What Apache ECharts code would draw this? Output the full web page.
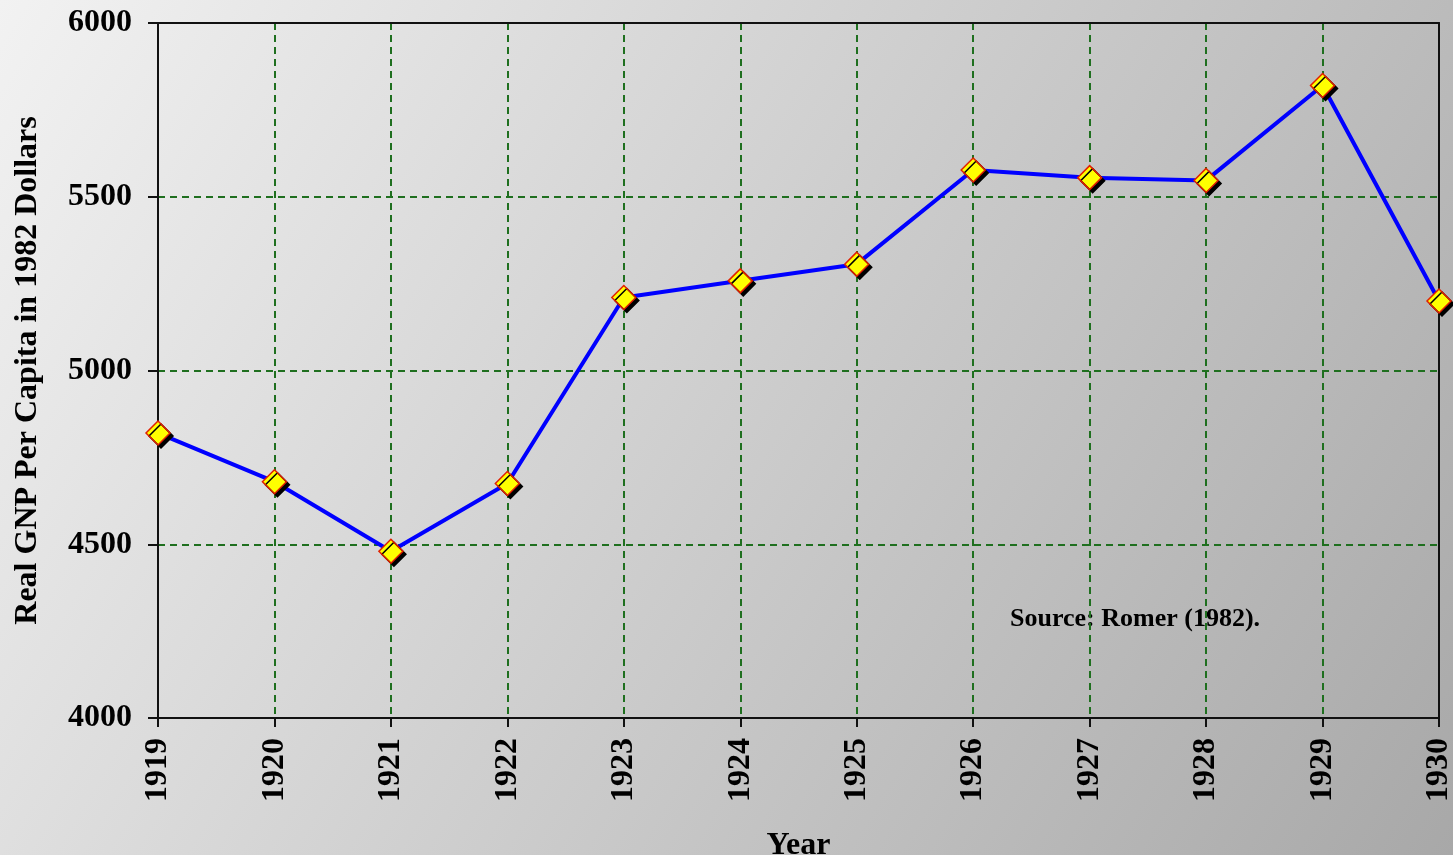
<!DOCTYPE html>
<html lang="en">
<head>
    <meta charset="UTF-8">
    <title>Real GNP Per Capita</title>
    <script src="https://cdn.jsdelivr.net/npm/echarts@6/dist/echarts.min.js"></script>
    <style>
        html, body { margin: 0; padding: 0; }
    </style>
</head>
<body>
    <div id="main" style="width: 1453px; height: 855px;"></div>
    <script>
        const years = ["1919", "1920", "1921", "1922", "1923", "1924", "1925", "1926", "1927", "1928", "1929", "1930"];
        const gnp = [4820, 4680, 4480, 4675, 5210, 5258, 5306, 5577, 5555, 5547, 5820, 5200];

        const font = "'Liberation Serif', 'Times New Roman', serif";
        const gridDash = { color: "#1f6f1f", type: [7, 5], width: 2 };
        const charts = echarts.init(document.getElementById("main"));

        const option = {
            backgroundColor: new echarts.graphic.LinearGradient(0, 0, 1, 1, [
                { offset: 0, color: "#f2f2f2" },
                { offset: 1, color: "#a8a8a8" }
            ]),
            grid: {
                left: 158, right: 14, top: 23, bottom: 137,
                outerBoundsMode: "none",
                containLabel: false
            },
            xAxis: [{
                type: "category",
                data: years,
                boundaryGap: false,
                name: "Year",
                nameLocation: "middle",
                nameGap: 112,
                nameTextStyle: { fontFamily: font, fontWeight: "bold", fontSize: 32, color: "#000" },
                axisLine: { lineStyle: { color: "#111", width: 2 } },
                axisTick: { length: 9, lineStyle: { color: "#111", width: 2 } },
                axisLabel: { rotate: 90, fontFamily: font, fontWeight: "bold", fontSize: 32, color: "#000", margin: 20 },
                splitLine: { show: true, lineStyle: gridDash },
                z: 3
            }, {
                type: "category",
                data: years,
                boundaryGap: false,
                position: "top",
                axisLine: { lineStyle: { color: "#111", width: 2 } },
                axisTick: { show: false },
                axisLabel: { show: false },
                splitLine: { show: false },
                z: 3
            }],
            yAxis: [{
                type: "value",
                min: 4000, max: 6000, interval: 500,
                name: "Real GNP Per Capita in 1982 Dollars",
                nameLocation: "middle",
                nameGap: 114,
                nameTextStyle: { fontFamily: font, fontWeight: "bold", fontSize: 32, color: "#000" },
                axisLine: { show: true, lineStyle: { color: "#111", width: 2 } },
                axisTick: { show: true, length: 10, lineStyle: { color: "#111", width: 2 } },
                axisLabel: { fontFamily: font, fontWeight: "bold", fontSize: 32, color: "#000", margin: 26,
                    formatter: v => String(v) },
                splitLine: { show: true, lineStyle: gridDash },
                z: 3
            }, {
                type: "value",
                min: 4000, max: 6000, interval: 500,
                position: "right",
                axisLine: { show: true, onZero: false, lineStyle: { color: "#111", width: 2 } },
                axisTick: { show: false },
                axisLabel: { show: false },
                splitLine: { show: false },
                z: 3
            }],
            series: [{
                type: "line",
                data: gnp,
                symbol: "diamond",
                symbolSize: 24,
                lineStyle: { color: "#0000ff", width: 4 },
                itemStyle: {
                    color: "#ffff00", borderColor: "#e02000", borderWidth: 1.5,
                    shadowColor: "#000", shadowOffsetX: 3, shadowOffsetY: 3, shadowBlur: 0
                },
                emphasis: { disabled: true },
                z: 5,
                animation: false
            }],
            graphic: [{
                type: "text",
                left: 1010, top: 606,
                style: {
                    text: "Source: Romer (1982).",
                    fontFamily: font, fontWeight: "bold", fontSize: 26, fill: "#000"
                }
            }]
        };
        charts.setOption(option);
    </script>
</body>
</html>
